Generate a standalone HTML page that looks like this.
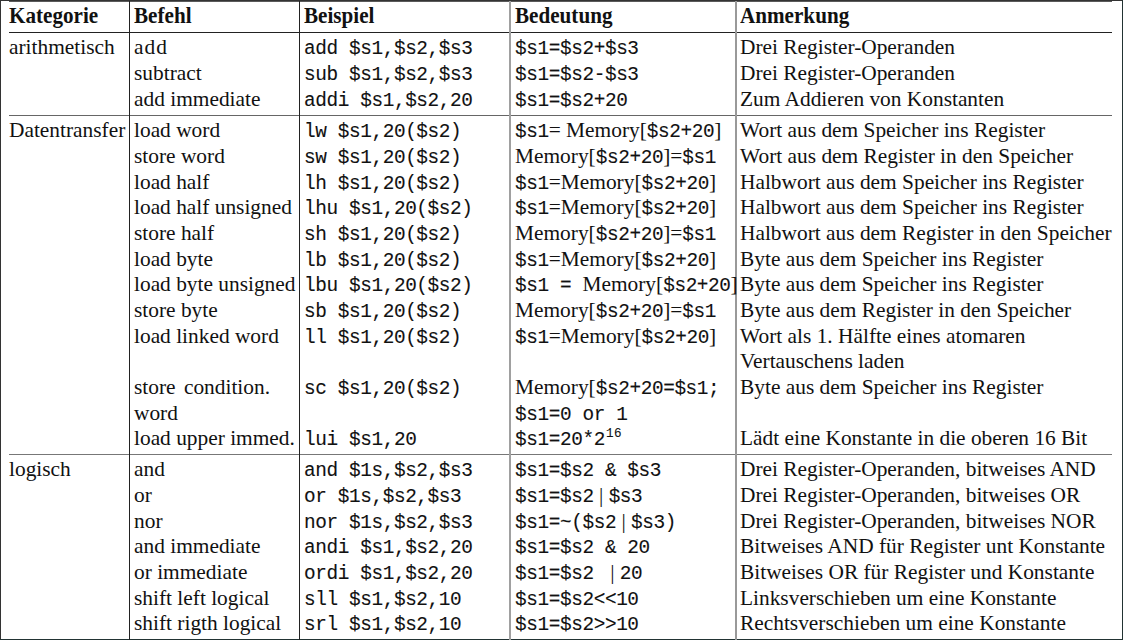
<!DOCTYPE html><html><head><meta charset="utf-8"><style>
html,body{margin:0;padding:0;background:#fff;}
body{width:1123px;height:640px;position:relative;overflow:hidden;}
.r{position:absolute;background:#222;}
.t,.th{position:absolute;white-space:pre;line-height:0;height:0;color:#111;font-family:"Liberation Serif",serif;font-size:21.38px;}
.th{font-weight:bold;font-size:23.80px;transform:scaleX(0.888);transform-origin:0 0;}
.s{font-family:"Liberation Serif",serif;font-size:21.38px;}
.m{font-family:"Liberation Mono",monospace;font-size:19.40px;letter-spacing:-0.40px;-webkit-text-stroke:0.1px #111;}
sup.m{font-size:12.6px;letter-spacing:0.6px;line-height:0;vertical-align:0;position:relative;top:-8px;margin-left:1px;}
</style></head><body><div class="r" style="left:0px;top:0px;width:1123px;height:1px;background:#333"></div><div class="r" style="left:0px;top:0px;width:1px;height:640px;background:#333"></div><div class="r" style="left:1122px;top:0px;width:1px;height:640px;background:#233"></div><div class="r" style="left:0px;top:639px;width:1123px;height:1px;background:#233"></div><div class="r" style="left:9px;top:1px;width:1103px;height:1px;background:#5a5a5a"></div><div class="r" style="left:9px;top:32px;width:1103px;height:1px;background:#222"></div><div class="r" style="left:9px;top:115px;width:1103px;height:1px;background:#666"></div><div class="r" style="left:9px;top:454px;width:1103px;height:1px;background:#777"></div><div class="r" style="left:129px;top:1px;width:1px;height:639px;background:#222"></div><div class="r" style="left:299px;top:1px;width:1px;height:639px;background:#222"></div><div class="r" style="left:509px;top:1px;width:2px;height:639px;background:#a0a0a0"></div><div class="r" style="left:735px;top:1px;width:2px;height:639px;background:#999"></div><div class="th" style="top:15.00px;left:9.00px">Kategorie</div>
<div class="th" style="top:15.00px;left:134.00px">Befehl</div>
<div class="th" style="top:15.00px;left:304.00px">Beispiel</div>
<div class="th" style="top:15.00px;left:515.00px">Bedeutung</div>
<div class="th" style="top:15.00px;left:740.00px">Anmerkung</div>
<div class="t" style="top:47.00px;left:9.00px"><span class="s">arithmetisch</span></div>
<div class="t" style="top:47.00px;left:134.00px"><span style="letter-spacing:1px">add</span></div>
<div class="t" style="top:47.00px;left:304.00px"><span class="m">add $s1,$s2,$s3</span></div>
<div class="t" style="top:47.00px;left:515.00px"><span class="m">$s1=$s2+$s3</span></div>
<div class="t" style="top:47.00px;left:740.00px"><span class="s">Drei Register-Operanden</span></div>
<div class="t" style="top:73.00px;left:134.00px"><span class="s">subtract</span></div>
<div class="t" style="top:73.00px;left:304.00px"><span class="m">sub $s1,$s2,$s3</span></div>
<div class="t" style="top:73.00px;left:515.00px"><span class="m">$s1=$s2-$s3</span></div>
<div class="t" style="top:73.00px;left:740.00px"><span class="s">Drei Register-Operanden</span></div>
<div class="t" style="top:99.00px;left:134.00px"><span class="s">add immediate</span></div>
<div class="t" style="top:99.00px;left:304.00px"><span class="m">addi $s1,$s2,20</span></div>
<div class="t" style="top:99.00px;left:515.00px"><span class="m">$s1=$s2+20</span></div>
<div class="t" style="top:99.00px;left:740.00px"><span class="s">Zum Addieren von Konstanten</span></div>
<div class="t" style="top:130.00px;left:9.00px"><span class="s">Datentransfer</span></div>
<div class="t" style="top:130.00px;left:134.00px"><span class="s">load word</span></div>
<div class="t" style="top:130.00px;left:304.00px"><span class="m">lw $s1,20($s2)</span></div>
<div class="t" style="top:130.00px;left:515.00px"><span class="m">$s1</span><span class="s">= Memory[</span><span class="m">$s2+20</span><span class="s">]</span></div>
<div class="t" style="top:130.00px;left:740.00px"><span class="s">Wort aus dem Speicher ins Register</span></div>
<div class="t" style="top:156.00px;left:134.00px"><span class="s">store word</span></div>
<div class="t" style="top:156.00px;left:304.00px"><span class="m">sw $s1,20($s2)</span></div>
<div class="t" style="top:156.00px;left:515.00px"><span class="s">Memory[</span><span class="m">$s2+20</span><span class="s">]=</span><span class="m">$s1</span></div>
<div class="t" style="top:156.00px;left:740.00px"><span class="s">Wort aus dem Register in den Speicher</span></div>
<div class="t" style="top:182.00px;left:134.00px"><span class="s">load half</span></div>
<div class="t" style="top:182.00px;left:304.00px"><span class="m">lh $s1,20($s2)</span></div>
<div class="t" style="top:182.00px;left:515.00px"><span class="m">$s1</span><span class="s">=Memory[</span><span class="m">$s2+20</span><span class="s">]</span></div>
<div class="t" style="top:182.00px;left:740.00px"><span class="s">Halbwort aus dem Speicher ins Register</span></div>
<div class="t" style="top:207.00px;left:134.00px"><span class="s">load half unsigned</span></div>
<div class="t" style="top:207.00px;left:304.00px"><span class="m">lhu $s1,20($s2)</span></div>
<div class="t" style="top:207.00px;left:515.00px"><span class="m">$s1</span><span class="s">=Memory[</span><span class="m">$s2+20</span><span class="s">]</span></div>
<div class="t" style="top:207.00px;left:740.00px"><span class="s">Halbwort aus dem Speicher ins Register</span></div>
<div class="t" style="top:233.00px;left:134.00px"><span class="s">store half</span></div>
<div class="t" style="top:233.00px;left:304.00px"><span class="m">sh $s1,20($s2)</span></div>
<div class="t" style="top:233.00px;left:515.00px"><span class="s">Memory[</span><span class="m">$s2+20</span><span class="s">]=</span><span class="m">$s1</span></div>
<div class="t" style="top:233.00px;left:740.00px"><span class="s">Halbwort aus dem Register in den Speicher</span></div>
<div class="t" style="top:259.00px;left:134.00px"><span class="s">load byte</span></div>
<div class="t" style="top:259.00px;left:304.00px"><span class="m">lb $s1,20($s2)</span></div>
<div class="t" style="top:259.00px;left:515.00px"><span class="m">$s1</span><span class="s">=Memory[</span><span class="m">$s2+20</span><span class="s">]</span></div>
<div class="t" style="top:259.00px;left:740.00px"><span class="s">Byte aus dem Speicher ins Register</span></div>
<div class="t" style="top:284.00px;left:134.00px"><span class="s">load byte unsigned</span></div>
<div class="t" style="top:284.00px;left:304.00px"><span class="m">lbu $s1,20($s2)</span></div>
<div class="t" style="top:284.00px;left:515.00px"><span class="m">$s1 = </span><span class="s">Memory[</span><span class="m">$s2+20</span><span class="s">]</span></div>
<div class="t" style="top:284.00px;left:740.00px"><span class="s">Byte aus dem Speicher ins Register</span></div>
<div class="t" style="top:310.00px;left:134.00px"><span class="s">store byte</span></div>
<div class="t" style="top:310.00px;left:304.00px"><span class="m">sb $s1,20($s2)</span></div>
<div class="t" style="top:310.00px;left:515.00px"><span class="s">Memory[</span><span class="m">$s2+20</span><span class="s">]=</span><span class="m">$s1</span></div>
<div class="t" style="top:310.00px;left:740.00px"><span class="s">Byte aus dem Register in den Speicher</span></div>
<div class="t" style="top:336.00px;left:134.00px"><span class="s">load linked word</span></div>
<div class="t" style="top:336.00px;left:304.00px"><span class="m">ll $s1,20($s2)</span></div>
<div class="t" style="top:336.00px;left:515.00px"><span class="m">$s1</span><span class="s">=Memory[</span><span class="m">$s2+20</span><span class="s">]</span></div>
<div class="t" style="top:336.00px;left:740.00px"><span class="s">Wort als 1. Hälfte eines atomaren</span></div>
<div class="t" style="top:361.00px;left:740.00px"><span class="s">Vertauschens laden</span></div>
<div class="t" style="top:387.00px;left:134.00px"><span class="s">store<span style="word-spacing:3px"> </span>condition.</span></div>
<div class="t" style="top:387.00px;left:304.00px"><span class="m">sc $s1,20($s2)</span></div>
<div class="t" style="top:387.00px;left:515.00px"><span class="s">Memory[</span><span class="m">$s2+20=$s1;</span></div>
<div class="t" style="top:387.00px;left:740.00px"><span class="s">Byte aus dem Speicher ins Register</span></div>
<div class="t" style="top:413.00px;left:134.00px"><span class="s">word</span></div>
<div class="t" style="top:413.00px;left:515.00px"><span class="m">$s1=0 or 1</span></div>
<div class="t" style="top:438.00px;left:134.00px"><span class="s">load upper immed.</span></div>
<div class="t" style="top:438.00px;left:304.00px"><span class="m">lui $s1,20</span></div>
<div class="t" style="top:438.00px;left:515.00px"><span class="m">$s1=20*2</span><sup class="m">16</sup></div>
<div class="t" style="top:438.00px;left:740.00px"><span class="s">Lädt eine Konstante in die oberen 16 Bit</span></div>
<div class="t" style="top:469.00px;left:9.00px"><span class="s">logisch</span></div>
<div class="t" style="top:469.00px;left:134.00px"><span class="s">and</span></div>
<div class="t" style="top:469.00px;left:304.00px"><span class="m">and $1s,$s2,$s3</span></div>
<div class="t" style="top:469.00px;left:515.00px"><span class="m">$s1=$s2 &amp; $s3</span></div>
<div class="t" style="top:469.00px;left:740.00px"><span class="s">Drei Register-Operanden, bitweises AND</span></div>
<div class="t" style="top:495.00px;left:134.00px"><span class="s">or</span></div>
<div class="t" style="top:495.00px;left:304.00px"><span class="m">or $1s,$s2,$s3</span></div>
<div class="t" style="top:495.00px;left:515.00px"><span class="m">$s1=$s2</span><span class="s"> | </span><span class="m">$s3</span></div>
<div class="t" style="top:495.00px;left:740.00px"><span class="s">Drei Register-Operanden, bitweises OR</span></div>
<div class="t" style="top:521.00px;left:134.00px"><span class="s">nor</span></div>
<div class="t" style="top:521.00px;left:304.00px"><span class="m">nor $1s,$s2,$s3</span></div>
<div class="t" style="top:521.00px;left:515.00px"><span class="m">$s1=~($s2</span><span class="s"> | </span><span class="m">$s3)</span></div>
<div class="t" style="top:521.00px;left:740.00px"><span class="s">Drei Register-Operanden, bitweises NOR</span></div>
<div class="t" style="top:546.00px;left:134.00px"><span class="s">and immediate</span></div>
<div class="t" style="top:546.00px;left:304.00px"><span class="m">andi $s1,$s2,20</span></div>
<div class="t" style="top:546.00px;left:515.00px"><span class="m">$s1=$s2 &amp; 20</span></div>
<div class="t" style="top:546.00px;left:740.00px"><span class="s">Bitweises AND für Register unt Konstante</span></div>
<div class="t" style="top:572.00px;left:134.00px"><span class="s">or immediate</span></div>
<div class="t" style="top:572.00px;left:304.00px"><span class="m">ordi $s1,$s2,20</span></div>
<div class="t" style="top:572.00px;left:515.00px"><span class="m">$s1=$s2 </span><span class="s"> | </span><span class="m">20</span></div>
<div class="t" style="top:572.00px;left:740.00px"><span class="s">Bitweises OR für Register und Konstante</span></div>
<div class="t" style="top:598.00px;left:134.00px"><span class="s">shift left logical</span></div>
<div class="t" style="top:598.00px;left:304.00px"><span class="m">sll $s1,$s2,10</span></div>
<div class="t" style="top:598.00px;left:515.00px"><span class="m">$s1=$s2&lt;&lt;10</span></div>
<div class="t" style="top:598.00px;left:740.00px"><span class="s">Linksverschieben um eine Konstante</span></div>
<div class="t" style="top:623.00px;left:134.00px"><span class="s">shift rigth logical</span></div>
<div class="t" style="top:623.00px;left:304.00px"><span class="m">srl $s1,$s2,10</span></div>
<div class="t" style="top:623.00px;left:515.00px"><span class="m">$s1=$s2&gt;&gt;10</span></div>
<div class="t" style="top:623.00px;left:740.00px"><span class="s">Rechtsverschieben um eine Konstante</span></div></body></html>
